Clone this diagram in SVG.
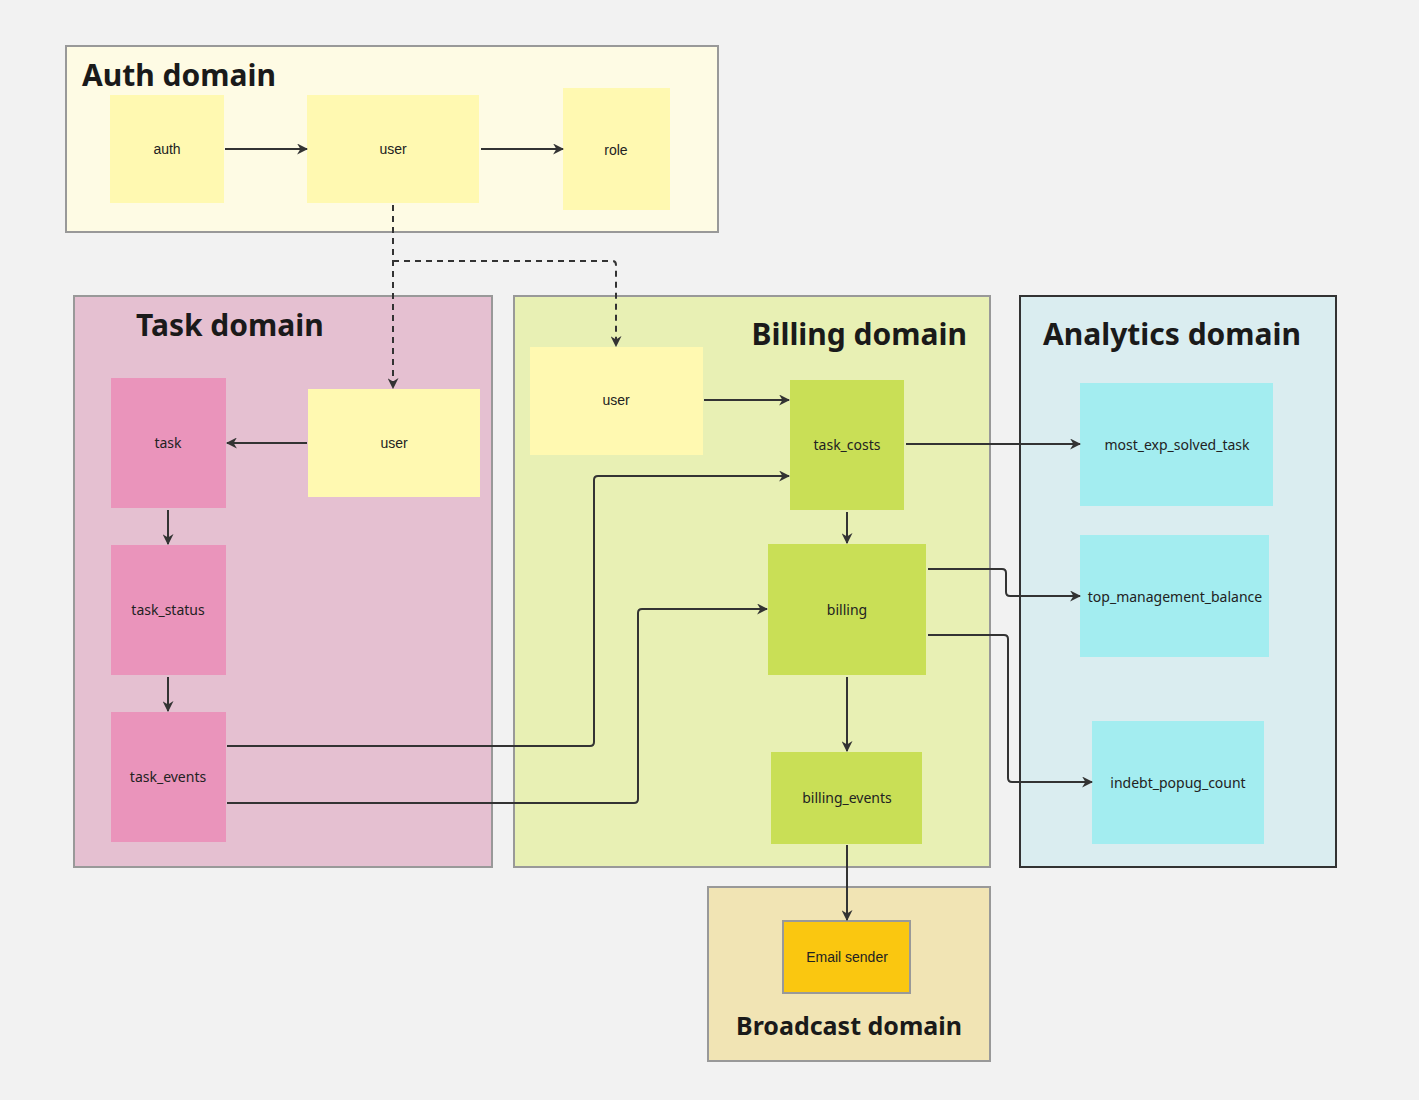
<svg xmlns="http://www.w3.org/2000/svg" width="1419" height="1100" viewBox="0 0 1419 1100">
<defs>
<marker id="ah" viewBox="0 0 10 10" refX="9" refY="5" markerWidth="11" markerHeight="11" markerUnits="userSpaceOnUse" orient="auto">
<path d="M0,0 L10,5 L0,10 L3,5 z" fill="#333"/>
</marker>
<style>
.frame{stroke:#999;stroke-width:2}
.title{font-family:"Noto Sans","Open Sans",sans-serif;font-weight:bold;font-size:30px;fill:#1a1a1a}
.lbl{font-family:"Noto Sans","Open Sans",sans-serif;font-size:14px;fill:#222;text-anchor:middle;dominant-baseline:central}
.lbla{font-family:"Liberation Sans",Arial,sans-serif;font-size:14px;fill:#222;text-anchor:middle;dominant-baseline:central}
.yel{fill:#fff9b1}
.pink{fill:#ea94bb}
.lime{fill:#c9df56}
.cyan{fill:#a3edf0}
.c{fill:none;stroke:#333;stroke-width:2;marker-end:url(#ah)}
.d{stroke-dasharray:6,5}
</style>
</defs>
<rect x="0" y="0" width="1419" height="1100" fill="#f2f2f2"/>

<g id="auth-domain">
<rect class="frame" x="66" y="46" width="652" height="186" fill="#fefbe4"/>
<text class="title" x="82" y="86">Auth domain</text>
</g>
<g id="task-domain">
<rect class="frame" x="74" y="296" width="418" height="571" fill="#e5c0d1"/>
<text class="title" x="136" y="336">Task domain</text>
</g>
<g id="billing-domain">
<rect class="frame" x="514" y="296" width="476" height="571" fill="#e8f0b4"/>
<text class="title" x="967" y="345" text-anchor="end">Billing domain</text>
</g>
<g id="analytics-domain">
<rect x="1020" y="296" width="316" height="571" fill="#daedf0" stroke="#333" stroke-width="2"/>
<text class="title" x="1043" y="345">Analytics domain</text>
</g>
<g id="broadcast-domain">
<rect class="frame" x="708" y="887" width="282" height="174" fill="#f1e4b4"/>
<text class="title" x="849" y="1035" text-anchor="middle" style="font-size:25px">Broadcast domain</text>
</g>

<g id="auth"><rect class="yel" x="110" y="95" width="114" height="108"/><text class="lbla" x="167" y="149">auth</text></g>
<g id="auth-user"><rect class="yel" x="307" y="95" width="172" height="108"/><text class="lbla" x="393" y="149">user</text></g>
<g id="role"><rect class="yel" x="563" y="88" width="107" height="122"/><text class="lbla" x="616" y="150">role</text></g>

<g id="task"><rect class="pink" x="111" y="378" width="115" height="130"/><text class="lbl" x="168" y="442">task</text></g>
<g id="task-user"><rect class="yel" x="308" y="389" width="172" height="108"/><text class="lbla" x="394" y="443">user</text></g>
<g id="task_status"><rect class="pink" x="111" y="545" width="115" height="130"/><text class="lbl" x="168" y="609">task_status</text></g>
<g id="task_events"><rect class="pink" x="111" y="712" width="115" height="130"/><text class="lbl" x="168" y="776">task_events</text></g>

<g id="billing-user"><rect class="yel" x="530" y="347" width="173" height="108"/><text class="lbla" x="616" y="400">user</text></g>
<g id="task_costs"><rect class="lime" x="790" y="380" width="114" height="130"/><text class="lbl" x="847" y="444">task_costs</text></g>
<g id="billing"><rect class="lime" x="768" y="544" width="158" height="131"/><text class="lbl" x="847" y="609">billing</text></g>
<g id="billing_events"><rect class="lime" x="771" y="752" width="151" height="92"/><text class="lbl" x="847" y="797">billing_events</text></g>

<g id="most_exp_solved_task"><rect class="cyan" x="1080" y="383" width="193" height="123"/><text class="lbl" x="1177" y="444">most_exp_solved_task</text></g>
<g id="top_management_balance"><rect class="cyan" x="1080" y="535" width="189" height="122"/><text class="lbl" x="1175" y="596">top_management_balance</text></g>
<g id="indebt_popug_count"><rect class="cyan" x="1092" y="721" width="172" height="123"/><text class="lbl" x="1178" y="782">indebt_popug_count</text></g>

<g id="email_sender"><rect x="783" y="921" width="127" height="72" fill="#fac710" stroke="#999" stroke-width="2"/><text class="lbla" x="847" y="957">Email sender</text></g>

<g id="connectors">
<path class="c" d="M225,149 H307"/>
<path class="c" d="M481,149 H563"/>
<path class="c d" d="M393,205 V388"/>
<path class="c d" d="M393,261 H612 Q616,261 616,265 V346"/>
<path class="c" d="M307,443 H227"/>
<path class="c" d="M168,510 V544"/>
<path class="c" d="M168,677 V711"/>
<path class="c" d="M704,400 H789"/>
<path class="c" d="M227,746 H590 Q594,746 594,742 V480 Q594,476 598,476 H789"/>
<path class="c" d="M227,803 H634 Q638,803 638,799 V613 Q638,609 642,609 H767"/>
<path class="c" d="M847,512 V543"/>
<path class="c" d="M847,677 V751"/>
<path class="c" d="M847,845 V920"/>
<path class="c" d="M906,444 H1080"/>
<path class="c" d="M928,569 H1002 Q1006,569 1006,573 V592 Q1006,596 1010,596 H1080"/>
<path class="c" d="M928,635 H1004 Q1008,635 1008,639 V778 Q1008,782 1012,782 H1092"/>
</g>
</svg>
